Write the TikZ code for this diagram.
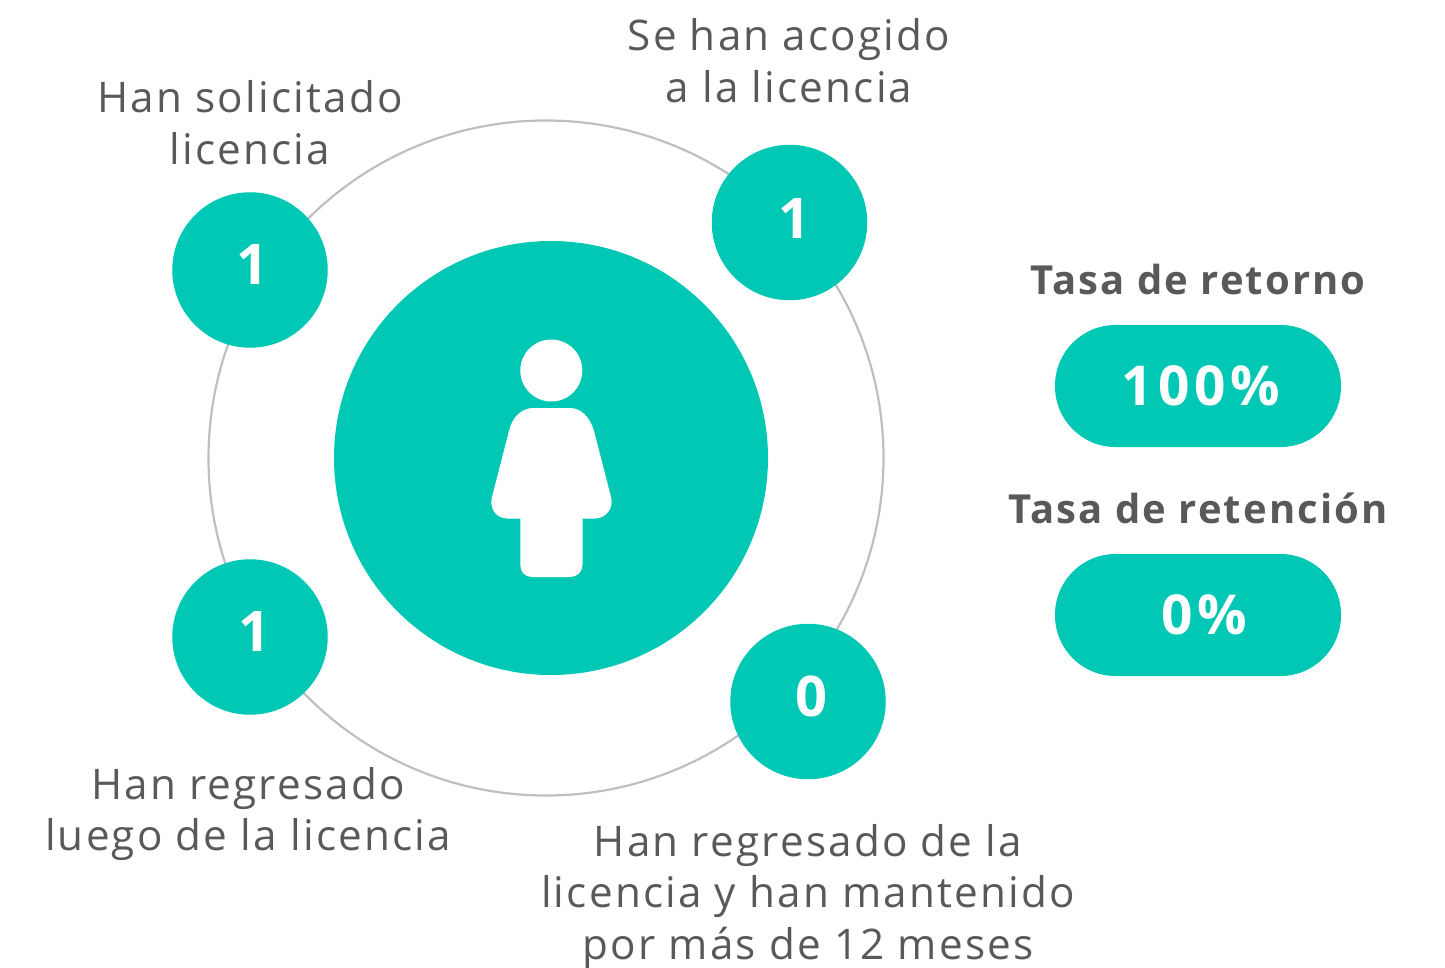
\documentclass[tikz,border=0pt]{standalone}
\usepackage{fontspec}
\setmainfont{Open Sans}[LetterSpace=5.2]
\newfontfamily\bigfont{Open Sans}[LetterSpace=9]
\definecolor{teal1}{HTML}{00C8B4}
\definecolor{txt}{HTML}{595959}
\tikzset{
 ring/.style={draw=black!25,line width=2.2pt,fill=none},
 badge/.style={circle,fill=teal1,minimum size=155.5pt,inner sep=0pt},
 num/.style={text=white,font=\fontsize{56}{56}\selectfont\bfseries,inner sep=0pt},
 lab/.style={text=txt,font=\fontsize{42.2}{51.7}\selectfont,align=center,inner sep=0pt},
 head/.style={text=txt,font=\fontsize{40}{48}\selectfont\bfseries,inner sep=0pt},
 pill/.style={rounded corners=60.5pt,fill=teal1,minimum width=286pt,minimum height=122pt,inner sep=0pt},
 big/.style={text=white,font=\bigfont\fontsize{55}{55}\selectfont\bfseries,inner sep=0pt}
}
\begin{document}
\begin{tikzpicture}[x=1pt,y=-1pt]
\useasboundingbox (0,0) rectangle (1445,968);
\node[circle,ring,minimum size=675pt,inner sep=0pt] (r) at (546,458) {};
\node[circle,fill=teal1,minimum size=434pt,inner sep=0pt] (c) at (551,458) {};
\fill[white] (551.3,370.5) circle (31);
\fill[white] (533,408) -- (570,408) .. controls (581,408) and (590,417) .. (594,431) -- (611,497) .. controls (614,508) and (606,518.5) .. (595,518.5) -- (582.5,518.5) -- (582.5,565) .. controls (582.5,572) and (577,577) .. (570,577) -- (532,577) .. controls (525,577) and (520.3,572) .. (520.3,565) -- (520.3,518.5) -- (507,518.5) .. controls (496,518.5) and (489,508) .. (492,497) -- (509,431) .. controls (512,417) and (522,408) .. (533,408) -- cycle;
\node[badge] (a) at (250,270) {};
\node[badge] (b) at (789.5,222.5) {};
\node[badge] (d) at (250,637) {};
\node[badge] (e) at (808,701.5) {};
\node[num] (an) at (252,264.5) {1};
\node[num] (bn) at (794,218.5) {1};
\node[num] (dn) at (254,631.5) {1};
\node[num] (en) at (811,696.5) {0};
\node[lab] (la) at (250,123) {Han solicitado\\licencia};
\node[lab] (lb) at (789,61) {Se han acogido\\a la licencia};
\node[lab] (ld) at (248,814) {Han regresado\\luego de la licencia};
\node[lab] (le) at (808,897) {Han regresado de la\\licencia y han mantenido\\por más de 12 meses};
\node[head] (h1) at (1198,279.5) {Tasa de retorno};
\node[head] (h2) at (1198,508.5) {Tasa de retención};
\node[pill] (p1) at (1198,386) {};
\node[pill] (p2) at (1198,615) {};
\node[big] (t1) at (1201,386) {100\%};
\node[big] (t2) at (1204,615) {0\%};
\end{tikzpicture}
\end{document}
